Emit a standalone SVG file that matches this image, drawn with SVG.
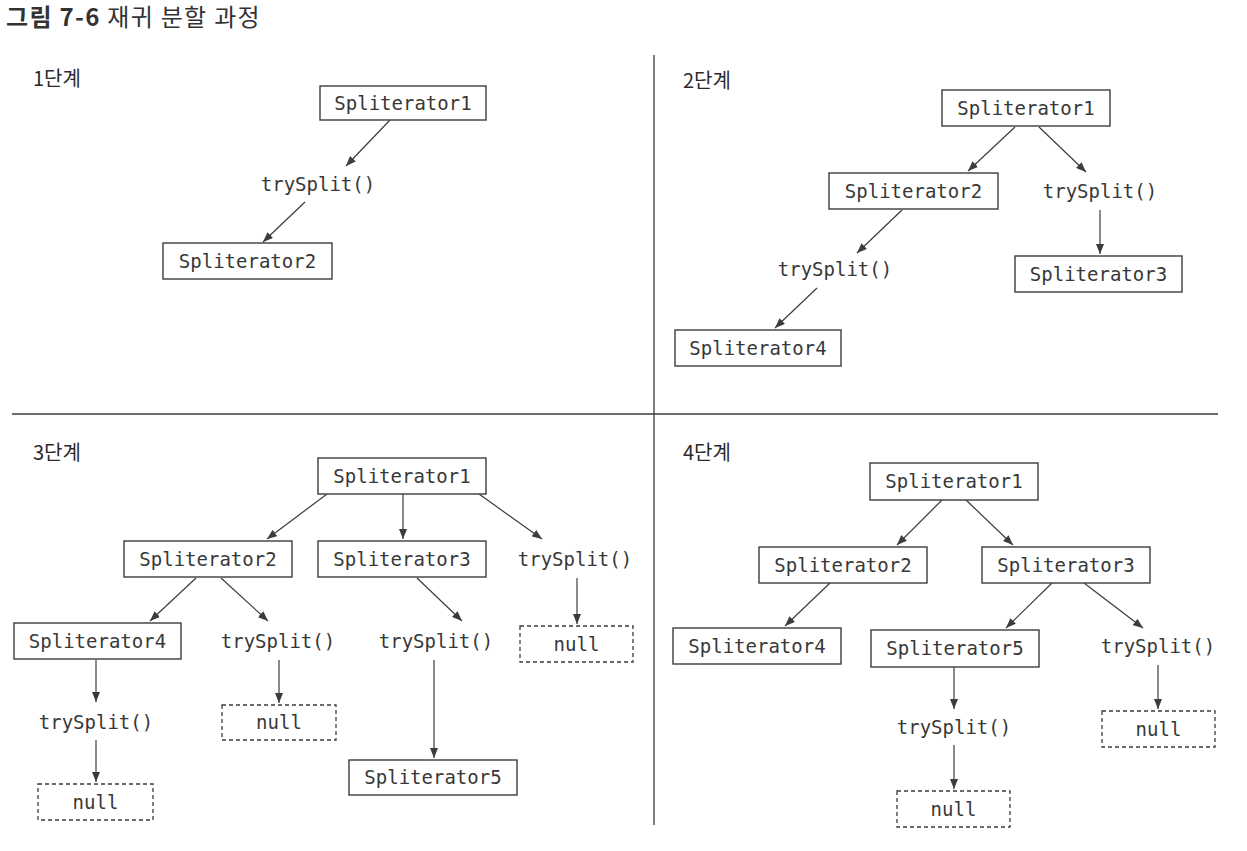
<svg xmlns="http://www.w3.org/2000/svg" width="1247" height="851" viewBox="0 0 1247 851">
<style>
.bg{fill:#ffffff}
.box{fill:#ffffff;stroke:#3c3c3c;stroke-width:1.4}
.nul{fill:#ffffff;stroke:#3c3c3c;stroke-width:1.3;stroke-dasharray:4 3}
.code{font-family:"DejaVu Sans Mono","Liberation Mono",monospace;font-size:19px;fill:#383838;text-anchor:middle}
.lbl{font-family:"Noto Sans CJK KR","Noto Sans",sans-serif;font-size:20px;fill:#2a2a2a}
.title{font-family:"Noto Sans CJK KR","Noto Sans",sans-serif;font-size:24px;letter-spacing:1.3px;fill:#333333}
.edge{stroke:#3c3c3c;stroke-width:1.2;fill:none;marker-end:url(#ah)}
.div{stroke:#3c3c3c;stroke-width:1.3}
</style>
<defs>
<marker id="ah" markerUnits="userSpaceOnUse" markerWidth="10" markerHeight="8" refX="10" refY="4" orient="auto">
<path d="M0,0 L10,4 L0,8 z" fill="#3c3c3c"/>
</marker>
</defs>
<rect class="bg" x="0" y="0" width="1247" height="851"/>
<text class="title" x="6" y="26"><tspan font-weight="bold">그림 7-6</tspan> 재귀 분할 과정</text>
<g id="dividers">
<line class="div" x1="654" y1="55" x2="654" y2="825"/>
<line class="div" x1="12" y1="414" x2="1218" y2="414"/>
</g>
<text class="lbl" x="33" y="86">1단계</text>
<text class="lbl" x="683" y="88">2단계</text>
<text class="lbl" x="33" y="460">3단계</text>
<text class="lbl" x="683" y="460">4단계</text>

<g id="connectors">
<line class="edge" x1="390" y1="120" x2="346" y2="166"/>
<line class="edge" x1="305" y1="202" x2="263" y2="242"/>

<line class="edge" x1="1015" y1="127" x2="968" y2="171"/>
<line class="edge" x1="1039" y1="127" x2="1086" y2="172"/>
<line class="edge" x1="1100" y1="210" x2="1100" y2="254"/>
<line class="edge" x1="902" y1="210" x2="857" y2="253"/>
<line class="edge" x1="817" y1="288" x2="775" y2="328"/>

<line class="edge" x1="327" y1="494" x2="267" y2="539"/>
<line class="edge" x1="403" y1="494" x2="403" y2="539"/>
<line class="edge" x1="479" y1="494" x2="542" y2="539"/>
<line class="edge" x1="196" y1="578" x2="150" y2="621"/>
<line class="edge" x1="221" y1="578" x2="268" y2="621"/>
<line class="edge" x1="417" y1="578" x2="462" y2="621"/>
<line class="edge" x1="577" y1="578" x2="577" y2="624"/>
<line class="edge" x1="96" y1="660" x2="96" y2="702"/>
<line class="edge" x1="279" y1="660" x2="279" y2="703"/>
<line class="edge" x1="434" y1="660" x2="434" y2="758"/>
<line class="edge" x1="96" y1="740" x2="96" y2="782"/>

<line class="edge" x1="942" y1="500" x2="897" y2="545"/>
<line class="edge" x1="966" y1="500" x2="1013" y2="545"/>
<line class="edge" x1="830" y1="583" x2="785" y2="626"/>
<line class="edge" x1="1052" y1="583" x2="1006" y2="628"/>
<line class="edge" x1="1084" y1="583" x2="1143" y2="628"/>
<line class="edge" x1="954" y1="667" x2="954" y2="709"/>
<line class="edge" x1="954" y1="745" x2="954" y2="789"/>
<line class="edge" x1="1158" y1="665" x2="1158" y2="709"/>
</g>

<!-- Panel 1 -->
<g id="p1-s1"><rect class="box" x="320" y="86" width="166" height="34"/><text class="code" x="403" y="109.5">Spliterator1</text></g>
<g id="p1-t1"><text class="code" x="318" y="191">trySplit()</text></g>
<g id="p1-s2"><rect class="box" x="163" y="243" width="169" height="36"/><text class="code" x="247.5" y="267.5">Spliterator2</text></g>

<!-- Panel 2 -->
<g id="p2-s1"><rect class="box" x="942" y="90" width="168" height="36"/><text class="code" x="1026" y="114.5">Spliterator1</text></g>
<g id="p2-s2"><rect class="box" x="829" y="173" width="169" height="36"/><text class="code" x="913.5" y="197.5">Spliterator2</text></g>
<g id="p2-t1"><text class="code" x="1100" y="198">trySplit()</text></g>
<g id="p2-s3"><rect class="box" x="1015" y="256" width="167" height="36"/><text class="code" x="1098.5" y="280.5">Spliterator3</text></g>
<g id="p2-t2"><text class="code" x="835" y="276">trySplit()</text></g>
<g id="p2-s4"><rect class="box" x="675" y="330" width="166" height="36"/><text class="code" x="758" y="354.5">Spliterator4</text></g>

<!-- Panel 3 -->
<g id="p3-s1"><rect class="box" x="318" y="458" width="168" height="36"/><text class="code" x="402" y="482.5">Spliterator1</text></g>
<g id="p3-s2"><rect class="box" x="124" y="541" width="168" height="36"/><text class="code" x="208" y="565.5">Spliterator2</text></g>
<g id="p3-s3"><rect class="box" x="318" y="541" width="168" height="36"/><text class="code" x="402" y="565.5">Spliterator3</text></g>
<g id="p3-t1"><text class="code" x="575" y="565.5">trySplit()</text></g>
<g id="p3-s4"><rect class="box" x="14" y="623" width="167" height="36"/><text class="code" x="97.5" y="647.5">Spliterator4</text></g>
<g id="p3-t2"><text class="code" x="278" y="647.5">trySplit()</text></g>
<g id="p3-t3"><text class="code" x="436" y="647.5">trySplit()</text></g>
<g id="p3-n1"><rect class="nul" x="520" y="626" width="113" height="36"/><text class="code" x="576.5" y="650.5">null</text></g>
<g id="p3-t4"><text class="code" x="96" y="728.5">trySplit()</text></g>
<g id="p3-n2"><rect class="nul" x="222" y="705" width="114" height="35"/><text class="code" x="279" y="729">null</text></g>
<g id="p3-s5"><rect class="box" x="349" y="760" width="168" height="35"/><text class="code" x="433" y="784">Spliterator5</text></g>
<g id="p3-n3"><rect class="nul" x="38" y="784" width="115" height="36"/><text class="code" x="95.5" y="808.5">null</text></g>

<!-- Panel 4 -->
<g id="p4-s1"><rect class="box" x="870" y="463" width="168" height="37"/><text class="code" x="954" y="488">Spliterator1</text></g>
<g id="p4-s2"><rect class="box" x="759" y="547" width="168" height="36"/><text class="code" x="843" y="571.5">Spliterator2</text></g>
<g id="p4-s3"><rect class="box" x="982" y="547" width="168" height="36"/><text class="code" x="1066" y="571.5">Spliterator3</text></g>
<g id="p4-s4"><rect class="box" x="673" y="628" width="168" height="36"/><text class="code" x="757" y="652.5">Spliterator4</text></g>
<g id="p4-s5"><rect class="box" x="871" y="630" width="168" height="37"/><text class="code" x="955" y="655">Spliterator5</text></g>
<g id="p4-t1"><text class="code" x="1158" y="653">trySplit()</text></g>
<g id="p4-n1"><rect class="nul" x="1102" y="711" width="113" height="36"/><text class="code" x="1158.5" y="735.5">null</text></g>
<g id="p4-t2"><text class="code" x="954" y="734">trySplit()</text></g>
<g id="p4-n2"><rect class="nul" x="897" y="791" width="113" height="36"/><text class="code" x="953.5" y="815.5">null</text></g>
</svg>
